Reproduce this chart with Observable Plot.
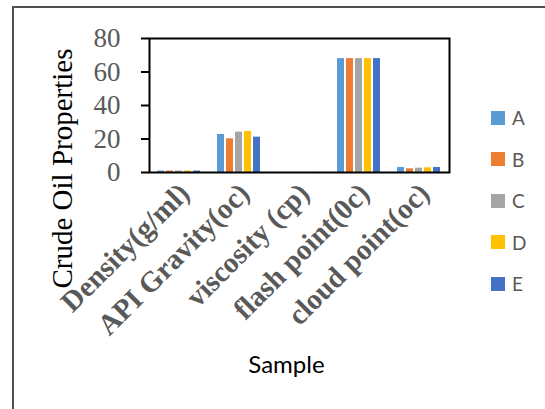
<!DOCTYPE html>
<html>
<head>
<meta charset="utf-8">
<script src="https://cdn.jsdelivr.net/npm/d3@7"></script>
<script src="https://cdn.jsdelivr.net/npm/@observablehq/plot@0.6"></script>
<style>
  html, body { margin: 0; padding: 0; background: #fff; overflow: hidden; }
  #wrap { position: relative; width: 545px; height: 409px; overflow: hidden; }
  #border { position: absolute; left: 12px; top: 6px; width: 700px; height: 600px; border: 2px solid #505050; box-sizing: border-box; }
  #chart { position: absolute; left: 0; top: 0; }
  #legend { position: absolute; left: 491px; top: 97px; font-family: Lato, "Open Sans", sans-serif; font-size: 19px; color: #595959; }
  .item { display: flex; align-items: center; height: 41.5px; }
  .sw { width: 14px; height: 14px; margin-right: 7px; }
</style>
</head>
<body>
<div id="wrap">
  <div id="border"></div>
  <div id="chart"></div>
  <div id="legend"></div>
</div>
<script>
const categories = ["Density(g/ml)", "API Gravity(oc)", "viscosity (cp)", "flash point(0c)", "cloud point(oc)"];
const samples = ["A", "B", "C", "D", "E"];
const colors = ["#5B9BD5", "#ED7D31", "#A5A5A5", "#FFC000", "#4472C4"];
const valuesA = [0.86, 22.7, 0.05, 68, 3.0];
const valuesB = [0.88, 20.1, 0.05, 68, 2.2];
const valuesC = [0.85, 24.1, 0.05, 68, 2.6];
const valuesD = [0.87, 24.5, 0.05, 68, 2.8];
const valuesE = [0.86, 21.1, 0.05, 68, 3.0];
const yTicks = [0, 20, 40, 60, 80];

const series = [valuesA, valuesB, valuesC, valuesD, valuesE];
const table = [];
categories.forEach((c, i) => {
  samples.forEach((s, j) => table.push({cat: c, s, v: series[j][i]}));
});

const serif = "'Liberation Serif', 'Times New Roman', serif";

const chart = Plot.plot({
  width: 545,
  height: 409,
  marginLeft: 147,
  marginRight: 94,
  marginTop: 38,
  marginBottom: 237,
  style: {background: "transparent", overflow: "visible"},
  fx: {domain: categories, padding: 0},
  x: {domain: samples, paddingInner: 0.185, paddingOuter: 0.9, axis: null},
  y: {domain: [0, 80]},
  color: {domain: samples, range: colors},
  marks: [
    Plot.barY(table, {fx: "cat", x: "s", y: "v", fill: "s"}),
    Plot.frame({facet: "super", stroke: "black", strokeWidth: 2}),
    Plot.axisY({ticks: yTicks, tickSize: 8, tickPadding: 21, stroke: "black", strokeWidth: 2,
      fill: "#595959", fontSize: 27, fontFamily: serif, label: null}),
    Plot.axisFx({anchor: "bottom", tickRotate: -45, tickSize: 0, tickPadding: 16, dx: 5,
      fontSize: 29, fontWeight: "bold", fill: "#595959", fontFamily: serif, label: null}),
    Plot.text(["Crude Oil Properties"], {facet: "super", frameAnchor: "left", textAnchor: "middle",
      rotate: -90, dx: -87, dy: 63, fontSize: 29, fill: "black", fontFamily: serif}),
    Plot.text(["Sample"], {facet: "super", frameAnchor: "bottom", dx: -13, dy: 200,
      fontSize: 24, fill: "black", fontFamily: "Lato, 'Open Sans', sans-serif"})
  ]
});
document.getElementById("chart").appendChild(chart);

const legend = document.getElementById("legend");
samples.forEach((s, i) => {
  const item = document.createElement("div");
  item.className = "item";
  const sw = document.createElement("span");
  sw.className = "sw";
  sw.style.background = colors[i];
  const lab = document.createElement("span");
  lab.textContent = s;
  item.appendChild(sw);
  item.appendChild(lab);
  legend.appendChild(item);
});
</script>
</body>
</html>
